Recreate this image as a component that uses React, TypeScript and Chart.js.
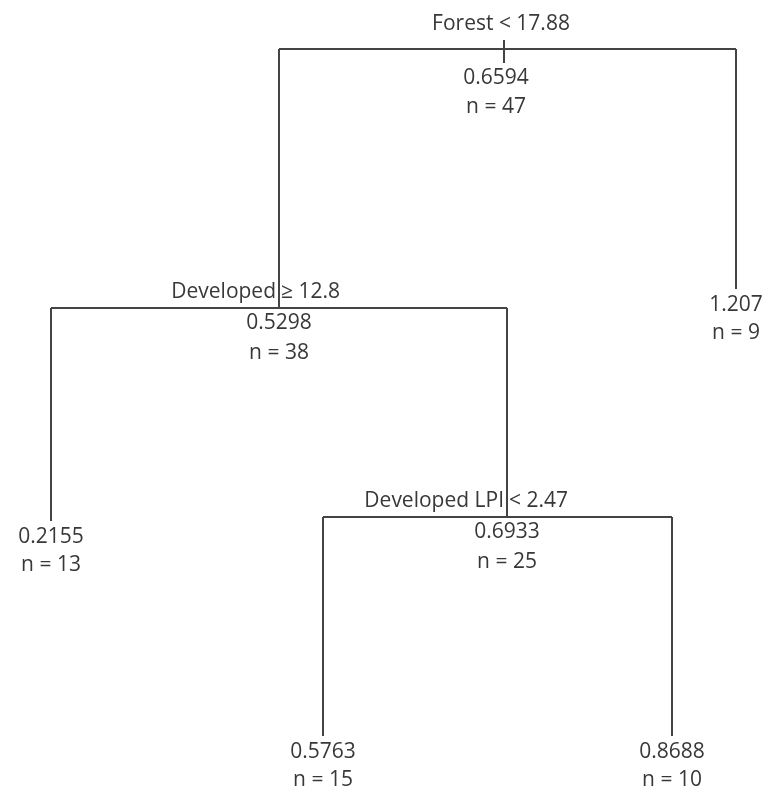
import React, { useEffect, useRef } from "react";
import { Chart, registerables } from "chart.js";

Chart.register(...registerables);

// Regression tree (rpart style numbering: children of k are 2k and 2k+1)
const nodeIds = [1, 2, 3, 4, 5, 10, 11];
const nodeMeans = [0.6594, 0.5298, 1.207, 0.2155, 0.6933, 0.5763, 0.8688];
const nodeCounts = [47, 38, 9, 13, 25, 15, 10];

// splits of the internal nodes 1, 2, 5
const splitNodes = [1, 2, 5];
const splitVars = ["Forest", "Developed", "Developed LPI"];
const splitOps = ["<", "≥", "<"];
const splitValues = [17.88, 12.8, 2.47];

// tree layout (horizontal position, node height)
const layoutX = [504, 279, 736, 51, 507, 323, 672];
const layoutY = [49, 308, 289, 521, 517, 736, 736];

const LINE = "#444444";
const TEXT = "#383838";
const FONT = '21px "Open Sans"';

export default function App() {
  const ref = useRef<HTMLCanvasElement | null>(null);

  useEffect(() => {
    if (!ref.current) return;
    const idx = (id: number) => nodeIds.indexOf(id);

    // build segments from the tree structure
    const segments: { x: number; y: number }[][] = [];
    splitNodes.forEach((id) => {
      const i = idx(id);
      const l = idx(id * 2);
      const r = idx(id * 2 + 1);
      segments.push([
        { x: layoutX[l], y: layoutY[i] },
        { x: layoutX[r], y: layoutY[i] },
      ]);
      [l, r].forEach((c) => {
        segments.push([
          { x: layoutX[c], y: layoutY[i] },
          { x: layoutX[c], y: layoutY[c] },
        ]);
      });
    });
    // root tick
    const r0 = idx(1);
    segments.push([
      { x: layoutX[r0], y: layoutY[r0] - 9 },
      { x: layoutX[r0], y: layoutY[r0] + 14 },
    ]);

    const textPlugin = {
      id: "treeText",
      afterDatasetsDraw(chart: any) {
        const { ctx, scales } = chart;
        const xs = scales.x;
        const ys = scales.y;
        ctx.save();
        ctx.font = FONT;
        ctx.fillStyle = TEXT;
        ctx.textBaseline = "middle";
        nodeIds.forEach((id, i) => {
          const px = xs.getPixelForValue(layoutX[i]);
          const py = ys.getPixelForValue(layoutY[i]);
          const s = splitNodes.indexOf(id);
          const mean = String(nodeMeans[i]);
          const cnt = "n = " + nodeCounts[i];
          if (s >= 0) {
            if (id === 1) {
              ctx.textAlign = "center";
              ctx.fillText(
                `${splitVars[s]} ${splitOps[s]} ${splitValues[s]}`,
                px - 3,
                py - 25
              );
              ctx.fillText(mean, px - 8, py + 29);
              ctx.fillText(cnt, px - 8, py + 58);
            } else {
              ctx.textAlign = "right";
              ctx.fillText(splitVars[s], px - 3, py - 16);
              ctx.textAlign = "left";
              ctx.fillText(`${splitOps[s]} ${splitValues[s]}`, px + 2, py - 16);
              ctx.textAlign = "center";
              ctx.fillText(mean, px, py + 15);
              ctx.fillText(cnt, px, py + 45);
            }
          } else {
            ctx.textAlign = "center";
            ctx.fillText(mean, px, py + 16);
            ctx.fillText(cnt, px, py + 44);
          }
        });
        ctx.restore();
      },
    };

    const chart = new Chart(ref.current, {
      type: "scatter",
      data: {
        datasets: segments.map((seg) => ({
          data: seg,
          showLine: true,
          borderColor: LINE,
          borderWidth: 2,
          pointRadius: 0,
          pointHoverRadius: 0,
          fill: false,
        })),
      },
      options: {
        animation: false,
        responsive: true,
        maintainAspectRatio: false,
        layout: { padding: 0 },
        plugins: {
          legend: { display: false },
          tooltip: { enabled: false },
          title: { display: false },
        },
        scales: {
          x: { type: "linear", min: 0, max: 768, display: false },
          y: { type: "linear", min: 0, max: 792, reverse: true, display: false },
        },
      },
      plugins: [textPlugin],
    });
    return () => chart.destroy();
  }, []);

  return (
    <div style={{ position: "fixed", left: 0, top: 0, width: 768, height: 792, background: "#fff" }}>
      <canvas ref={ref} />
    </div>
  );
}
